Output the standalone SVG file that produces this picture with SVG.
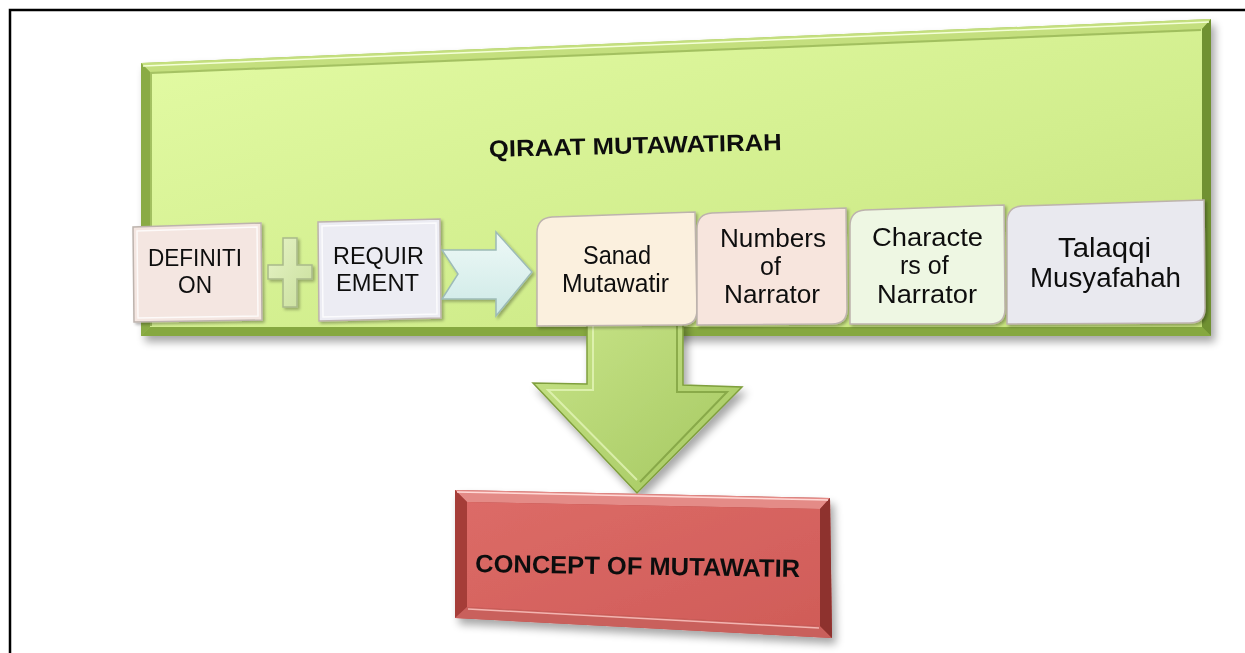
<svg xmlns="http://www.w3.org/2000/svg" width="1245" height="653" viewBox="0 0 1245 653">
<defs>
  <filter id="sh" x="-10%" y="-10%" width="130%" height="140%">
    <feGaussianBlur in="SourceAlpha" stdDeviation="4"/>
    <feOffset dx="4" dy="6" result="b"/>
    <feComponentTransfer><feFuncA type="linear" slope="0.35"/></feComponentTransfer>
    <feMerge><feMergeNode/><feMergeNode in="SourceGraphic"/></feMerge>
  </filter>
  <filter id="shs" x="-10%" y="-10%" width="130%" height="130%">
    <feGaussianBlur in="SourceAlpha" stdDeviation="1.5"/>
    <feOffset dx="1.5" dy="2" result="b"/>
    <feComponentTransfer><feFuncA type="linear" slope="0.3"/></feComponentTransfer>
    <feMerge><feMergeNode/><feMergeNode in="SourceGraphic"/></feMerge>
  </filter>
  <linearGradient id="gFace" x1="0" y1="0" x2="1" y2="1">
    <stop offset="0" stop-color="#e3fba4"/>
    <stop offset="0.6" stop-color="#d2ee8e"/>
    <stop offset="1" stop-color="#c6e27c"/>
  </linearGradient>
  <linearGradient id="gArrow" x1="0" y1="0" x2="1" y2="1">
    <stop offset="0" stop-color="#c8e488"/>
    <stop offset="1" stop-color="#a4c760"/>
  </linearGradient>
  <linearGradient id="gRed" x1="0" y1="0" x2="1" y2="1">
    <stop offset="0" stop-color="#dc6b67"/>
    <stop offset="1" stop-color="#d05c58"/>
  </linearGradient>
  <linearGradient id="gChev" x1="0" y1="0" x2="0" y2="1">
    <stop offset="0" stop-color="#eef9f7"/>
    <stop offset="1" stop-color="#cde9e6"/>
  </linearGradient>
  <linearGradient id="gPlus" x1="0" y1="0" x2="1" y2="1">
    <stop offset="0" stop-color="#e6f3c6"/>
    <stop offset="1" stop-color="#c9df9c"/>
  </linearGradient>
</defs>
<style>
  .t { font-family: "Liberation Sans", Arial, sans-serif; font-size: 25px; fill: #111; }
  .s { font-size: 23px; }
  .l { font-size: 27px; }
  .tb { font-family: "Liberation Sans", Arial, sans-serif; font-weight: bold; fill: #111; }
  .box { stroke: #bdb3ad; stroke-width: 1.5; }
  .hl { fill: none; stroke: #ffffff; stroke-opacity: 0.8; stroke-width: 1.5; }
</style>

<rect x="10" y="10" width="1300" height="700" fill="#ffffff" stroke="#000" stroke-width="2.5"/>

<g id="panel" filter="url(#sh)">
  <polygon points="141,63 1211,19 1211,336 141,336" fill="#9fc055"/>
  <polygon points="141,63 1211,19 1202,29 150,72" fill="#c4df7e"/>
  <polygon points="141,63 150,72 150,327 141,336" fill="#8aab44"/>
  <polygon points="141,336 150,327 1202,327 1211,336" fill="#86a83f"/>
  <polygon points="1211,19 1211,336 1202,327 1202,29" fill="#6f9130"/>
  <polyline points="143,66 1209,22" fill="none" stroke="#f4ffd8" stroke-width="1.5"/>
  <polygon points="150,72 1202,29 1202,327 150,327" fill="url(#gFace)"/>
  <polyline points="151,326 151,73 1201,30" fill="none" stroke="#7d9c3a" stroke-width="2" stroke-opacity="0.6"/>
  <text class="tb" font-size="23.5" transform="translate(489,157) rotate(-1.37)" textLength="293" lengthAdjust="spacingAndGlyphs">QIRAAT MUTAWATIRAH</text>
</g>

<g id="downArrow" filter="url(#sh)">
  <polygon points="587,320 683,320 683,385 742,387 637,493 533,383 587,384" fill="url(#gArrow)" stroke="#7f9f3c" stroke-width="1.5"/>
  <polyline points="593,326 593,390 548,390 637,480" fill="none" stroke="#e3f5b8" stroke-width="2" stroke-opacity="0.8"/>
  <polyline points="677,326 677,392 727,392 640,482" fill="none" stroke="#6e8f30" stroke-width="2" stroke-opacity="0.6"/>
</g>

<g id="definition" filter="url(#shs)">
  <polygon class="box" points="133,227 261,223 262,320 134,322" fill="#f4e6e1"/>
  <polygon class="hl" points="137,231 257,227 258,316 138,318"/>
  <text class="t s" x="148" y="266" textLength="94" lengthAdjust="spacingAndGlyphs">DEFINITI</text>
  <text class="t s" x="178" y="293" textLength="34" lengthAdjust="spacingAndGlyphs">ON</text>
</g>

<g id="plus" filter="url(#shs)">
  <polygon points="283,238 297,238 297,265 312,265 312,279 297,279 297,307 283,307 283,279 268,279 268,265 283,265" fill="url(#gPlus)" stroke="#a9b98a" stroke-width="1.5"/>
</g>

<g id="requirement" filter="url(#shs)">
  <polygon class="box" points="318,222 440,219 441,318 319,321" fill="#ececf3"/>
  <polygon class="hl" points="322,226 436,223 437,314 323,317"/>
  <text class="t s" x="333" y="264" textLength="91" lengthAdjust="spacingAndGlyphs">REQUIR</text>
  <text class="t s" x="336" y="291" textLength="83" lengthAdjust="spacingAndGlyphs">EMENT</text>
</g>

<g id="connectors">
  <polygon points="442,250 496,250 496,232 532,272 496,316 496,299 442,299 458,274" fill="url(#gChev)" stroke="#9dbbb7" stroke-width="1.5" filter="url(#shs)"/>
</g>

<g id="sanad" filter="url(#shs)">
  <path class="box" d="M552,217 L695,212 L697,310 Q697,325 682,325 L537,326 L537,233 Q537,218 552,217 Z" fill="#fbf0de"/>
  <text class="t" x="583" y="264" textLength="68" lengthAdjust="spacingAndGlyphs">Sanad</text>
  <text class="t" x="562" y="292" textLength="107" lengthAdjust="spacingAndGlyphs">Mutawatir</text>
</g>

<g id="numbers" filter="url(#shs)">
  <path class="box" d="M712,213 L846,208 L847,309 Q847,324 832,324 L697,325 L697,229 Q697,214 712,213 Z" fill="#f7e5dd"/>
  <text class="t" x="720" y="247" textLength="106" lengthAdjust="spacingAndGlyphs">Numbers</text>
  <text class="t" x="760" y="275">of</text>
  <text class="t" x="724" y="303" textLength="96" lengthAdjust="spacingAndGlyphs">Narrator</text>
</g>

<g id="characters" filter="url(#shs)">
  <path class="box" d="M865,210 L1004,205 L1005,309 Q1005,324 990,324 L850,324 L850,226 Q850,211 865,210 Z" fill="#eef7e3"/>
  <text class="t" x="872" y="246" textLength="111" lengthAdjust="spacingAndGlyphs">Characte</text>
  <text class="t" x="900" y="274">rs of</text>
  <text class="t" x="877" y="303" textLength="100" lengthAdjust="spacingAndGlyphs">Narrator</text>
</g>

<g id="talaqqi" filter="url(#shs)">
  <path class="box" d="M1022,206 L1204,200 L1205,308 Q1205,323 1190,323 L1007,324 L1007,222 Q1007,207 1022,206 Z" fill="#e9e9ef"/>
  <text class="t l" x="1058" y="257" textLength="93" lengthAdjust="spacingAndGlyphs">Talaqqi</text>
  <text class="t l" x="1030" y="287" textLength="151" lengthAdjust="spacingAndGlyphs">Musyafahah</text>
</g>

<g id="concept" filter="url(#sh)">
  <polygon points="455,490 830,498 832,638 455,618" fill="#b44a47"/>
  <polygon points="455,490 830,498 820,509 467,502" fill="#e48b87"/>
  <polygon points="455,490 467,502 467,607 455,618" fill="#a53c39"/>
  <polygon points="455,618 467,607 820,626 832,638" fill="#c9605c"/>
  <polygon points="830,498 832,638 820,626 820,509" fill="#8e302d"/>
  <polyline points="457,492 828,500" fill="none" stroke="#ffd9d6" stroke-width="1.5"/>
  <polyline points="468,609 819,628" fill="none" stroke="#f3b5b1" stroke-width="1.5"/>
  <polygon points="467,502 820,509 820,626 467,607" fill="url(#gRed)"/>
  <text class="tb" font-size="25" transform="translate(475,572) rotate(0.9)" textLength="325" lengthAdjust="spacingAndGlyphs">CONCEPT OF MUTAWATIR</text>
</g>
</svg>
